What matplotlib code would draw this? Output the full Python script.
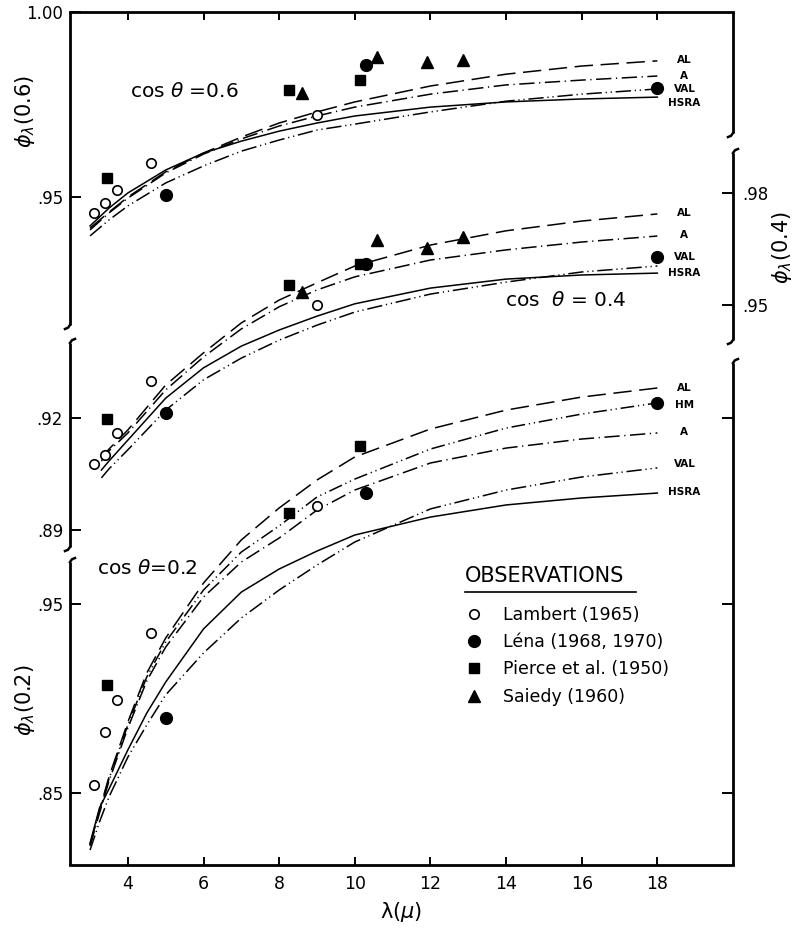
import matplotlib
matplotlib.use('Agg')
import matplotlib.pyplot as plt
from matplotlib.lines import Line2D

# ---------------------------------------------------------------- data
x_ticks = [4, 6, 8, 10, 12, 14, 16, 18]
x_tick_labels = ['4', '6', '8', '10', '12', '14', '16', '18']

ticks06_left = [0.95, 1.00]
labels06_left = ['.95', '1.00']
ticks04_left = [0.89, 0.92]
labels04_left = ['.89', '.92']
ticks04_right = [0.92, 0.95, 0.98]
labels04_right = ['', '.95', '.98']
ticks02 = [0.85, 0.95]
labels02_left = ['.85', '.95']

# model curves, cos theta = 0.6
lam06 = [3.0, 3.5, 4, 5, 6, 7, 8, 9, 10, 12, 14, 16, 18]
phi06_AL = [.9416, .9459, .9500, .9568, .9619, .9662, .9700, .9730, .9757, .9800, .9832, .9854, .9868]
phi06_A = [.9411, .9457, .9497, .9565, .9616, .9657, .9692, .9719, .9743, .9778, .9803, .9816, .9827]
phi06_VAL = [.9395, .9438, .9476, .9538, .9584, .9624, .9654, .9681, .9697, .9730, .9759, .9778, .9792]
phi06_HSRA = [.9422, .9470, .9511, .9573, .9619, .9651, .9678, .9700, .9719, .9743, .9757, .9765, .9770]

# model curves, cos theta = 0.4
lam04 = [3.3, 3.5, 4, 5, 6, 7, 8, 9, 10, 12, 14, 16, 18]
phi04_AL = [.9092, .9116, .9167, .9287, .9373, .9453, .9514, .9560, .9605, .9661, .9699, .9725, .9744]
phi04_A = [.9084, .9111, .9159, .9274, .9362, .9437, .9496, .9541, .9576, .9621, .9648, .9669, .9685]
phi04_VAL = [.9039, .9063, .9114, .9220, .9301, .9359, .9407, .9447, .9482, .9530, .9562, .9589, .9605]
phi04_HSRA = [.9060, .9084, .9140, .9252, .9333, .9391, .9434, .9471, .9504, .9546, .9570, .9581, .9586]

# model curves, cos theta = 0.2
lam02 = [3.0, 3.25, 3.5, 4, 4.5, 5, 6, 7, 8, 9, 10, 12, 14, 16, 18]
phi02_AL = [.8225, .8410, .8585, .8876, .9135, .9320, .9611, .9839, 1.0008, 1.0156, 1.0278, 1.0426, 1.0526, 1.0595, 1.0643]
phi02_HM = [.8225, .8405, .8574, .8860, .9114, .9299, .9574, .9775, .9913, 1.0066, 1.0161, 1.0320, 1.0431, 1.0505, 1.0564]
phi02_A = [.8220, .8394, .8563, .8844, .9093, .9272, .9537, .9722, .9849, .9997, 1.0103, 1.0246, 1.0325, 1.0373, 1.0405]
phi02_VAL = [.8198, .8347, .8479, .8690, .8860, .9019, .9241, .9426, .9574, .9706, .9828, 1.0003, 1.0103, 1.0172, 1.0220]
phi02_HSRA = [.8235, .8421, .8521, .8728, .8923, .9087, .9368, .9563, .9685, .9780, .9865, .9960, 1.0024, 1.0061, 1.0087]

# observations
lambert_x = [3.1, 3.4, 3.7, 4.6, 9.0]
pierce_x = [3.45, 8.25, 10.15]
lena_x = [5.0, 10.3, 18.0]
saiedy_x = [8.6, 10.6, 11.9, 12.85]

lambert06 = [.9457, .9484, .9519, .9592, .9722]
pierce06 = [.9551, .9789, .9816]
lena06 = [.9505, .9857, .9795]
saiedy06 = [.9781, .9878, .9865, .9870]

lambert04 = [.9076, .9100, .9159, .9298, .9501]
pierce04 = [.9196, .9554, .9610]
lena04 = [.9212, .9610, .9629]
saiedy04 = [.9536, .9674, .9653, .9682]

lambert02 = [.8542, .8823, .8992, .9347, 1.0019]
pierce02 = [.9071, .9981, 1.0336]
lena02 = [.8897, 1.0087, 1.0564]

obs_labels = ['Lambert (1965)', 'Léna (1968, 1970)', 'Pierce et al. (1950)', 'Saiedy (1960)']

# ---------------------------------------------------------------- styles
W, H = 793, 931
line_styles = {
    'AL': dict(ls=(0, (12, 5))),
    'A': dict(ls=(0, (10, 3, 0.8, 3))),
    'HM': dict(ls=(0, (9, 2.5, 0.8, 2.5, 0.8, 2.5))),
    'VAL': dict(ls=(0, (10, 2.5, 0.8, 2.5, 0.8, 2.5))),
    'HSRA': dict(ls='-'),
}
mk_lambert = dict(marker='o', ms=6.8, mfc='white', mec='black', mew=1.2, ls='none')
mk_lena = dict(marker='o', ms=8.5, mfc='black', mec='black', ls='none')
mk_pierce = dict(marker='s', ms=7.2, mfc='black', mec='black', ls='none')
mk_saiedy = dict(marker='^', ms=8.5, mfc='black', mec='black', ls='none')

plt.rcParams['font.family'] = ['DejaVu Sans']
plt.rcParams['mathtext.fontset'] = 'dejavusans'

fig = plt.figure(figsize=(W / 100, H / 100), dpi=100)
rect = [70 / W, 66 / H, 663 / W, 853 / H]
xlim = (2.47, 20.0)

base = fig.add_axes(rect)
base.set_xlim(*xlim)
base.set_ylim(0, 1)
base.set_yticks([])
base.set_xticks(x_ticks)
base.set_xticklabels(x_tick_labels, fontsize=12.5)
base.tick_params(axis='x', which='both', direction='in', top=True, bottom=True,
                 length=6, width=1.4, pad=7)
for s in ('left', 'right'):
    base.spines[s].set_visible(False)
for s in ('top', 'bottom'):
    base.spines[s].set_linewidth(2.0)
base.set_xlabel(r'λ($\mu$)', fontsize=15, labelpad=5)


def overlay(ylim):
    ax = fig.add_axes(rect)
    ax.set_xlim(*xlim)
    ax.set_ylim(*ylim)
    ax.patch.set_visible(False)
    for s in ax.spines.values():
        s.set_visible(False)
    ax.set_xticks([])
    ax.tick_params(axis='y', direction='in', length=8, width=1.4, labelsize=12, pad=5)
    return ax


ax06 = overlay((0.7695, 1.0))
ax04 = overlay((0.80051, 1.02834))
ax04r = overlay((0.80051, 1.02834))
ax02 = overlay((0.81190, 1.26323))

ax06.set_yticks(ticks06_left)
ax06.set_yticklabels(labels06_left)
ax04.set_yticks(ticks04_left)
ax04.set_yticklabels(labels04_left)
ax04r.yaxis.tick_right()
ax04r.set_yticks(ticks04_right)
ax04r.set_yticklabels(labels04_right)
ax04r.tick_params(axis='y', pad=7)
ax02.set_yticks(ticks02)
ax02.set_yticklabels(labels02_left)
ax02.tick_params(axis='y', right=True, labelright=False)

# broken left / right spines (axes fraction, decoration)
dx, dy = 5 / 663, 4 / 853


def spine_seg(x, y_lo, y_hi, hook_top, hook_bot):
    base.add_line(Line2D([x, x], [y_lo, y_hi], transform=base.transAxes, color='black',
                         lw=2.0, clip_on=False, solid_capstyle='butt'))
    if hook_top:
        base.add_line(Line2D([x, x + 0.4 * dx, x + dx], [y_hi, y_hi + 0.7 * dy, y_hi + dy],
                             transform=base.transAxes, color='black', lw=1.8, clip_on=False))
    if hook_bot:
        base.add_line(Line2D([x, x - 0.4 * dx, x - dx], [y_lo, y_lo - 0.7 * dy, y_lo - dy],
                             transform=base.transAxes, color='black', lw=1.8, clip_on=False))


spine_seg(0, 0.6331, 1.0, False, True)
spine_seg(0, 0.3728, 0.6120, True, True)
spine_seg(0, 0.0, 0.3552, True, False)
spine_seg(1, 0.8581, 1.0, False, True)
spine_seg(1, 0.6155, 0.8347, True, True)
spine_seg(1, 0.0, 0.5885, True, False)

# model curves
lw = 1.1
label_dx = 19.5
panels = [
    (ax06, lam06, [('AL', phi06_AL, 0.7), ('A', phi06_A, 0), ('VAL', phi06_VAL, 0),
                   ('HSRA', phi06_HSRA, -4.3)]),
    (ax04, lam04, [('AL', phi04_AL, 0.5), ('A', phi04_A, 0.5), ('VAL', phi04_VAL, 6.5),
                   ('HSRA', phi04_HSRA, 0)]),
    (ax02, lam02, [('AL', phi02_AL, 0), ('HM', phi02_HM, -1.4), ('A', phi02_A, 0.7),
                   ('VAL', phi02_VAL, 2.9), ('HSRA', phi02_HSRA, 0.7)]),
]
for ax, lam, curves in panels:
    for name, vals, ddy in curves:
        ax.plot(lam, vals, color='black', lw=lw, **line_styles[name])
        ax.annotate(name, xy=(lam[-1], vals[-1]), xytext=(label_dx, ddy),
                    textcoords='offset points', ha='center', va='center',
                    fontsize=7.5, fontweight='bold')

# observations
handles = None
for ax, lb, le, pi, sa in [(ax06, lambert06, lena06, pierce06, saiedy06),
                           (ax04, lambert04, lena04, pierce04, saiedy04),
                           (ax02, lambert02, lena02, pierce02, None)]:
    h1, = ax.plot(lambert_x, lb, **mk_lambert)
    h2, = ax.plot(lena_x, le, **mk_lena)
    h3, = ax.plot(pierce_x, pi, **mk_pierce)
    if sa is not None:
        h4, = ax.plot(saiedy_x, sa, **mk_saiedy)
        handles = [h1, h2, h3, h4]

# panel annotations
ax06.text(4.05, 0.9784, r'cos $\theta$ =0.6', fontsize=14.5, va='center', ha='left')
ax04.text(13.96, 0.9514, r'cos  $\theta$ = 0.4', fontsize=14.5, va='center', ha='left')
ax02.text(3.18, 0.969, r'cos $\theta$=0.2', fontsize=14.5, va='center', ha='left')

# axis titles
fig.text(25 / W, 1 - 112 / H, r'$\phi_{\lambda}$(0.6)', rotation=90, fontsize=15,
         ha='center', va='center')
fig.text(25 / W, 1 - 700 / H, r'$\phi_{\lambda}$(0.2)', rotation=90, fontsize=15,
         ha='center', va='center')
fig.text(782 / W, 1 - 248 / H, r'$\phi_{\lambda}$(0.4)', rotation=90, fontsize=15,
         ha='center', va='center')

# observations legend
fig.text(465 / W, 1 - 576 / H, 'OBSERVATIONS', fontsize=15, ha='left', va='center')
fig.add_artist(Line2D([465 / W, 636 / W], [1 - 592 / H, 1 - 592 / H],
                      transform=fig.transFigure, color='black', lw=1.2))
fig.legend(handles, obs_labels, loc='upper left', bbox_to_anchor=(465 / W, 1 - 606 / H),
           frameon=False, fontsize=12.5, handlelength=1.0, handletextpad=1.2,
           labelspacing=0.53, borderpad=0, borderaxespad=0)

fig.savefig('out.png', dpi=100)
